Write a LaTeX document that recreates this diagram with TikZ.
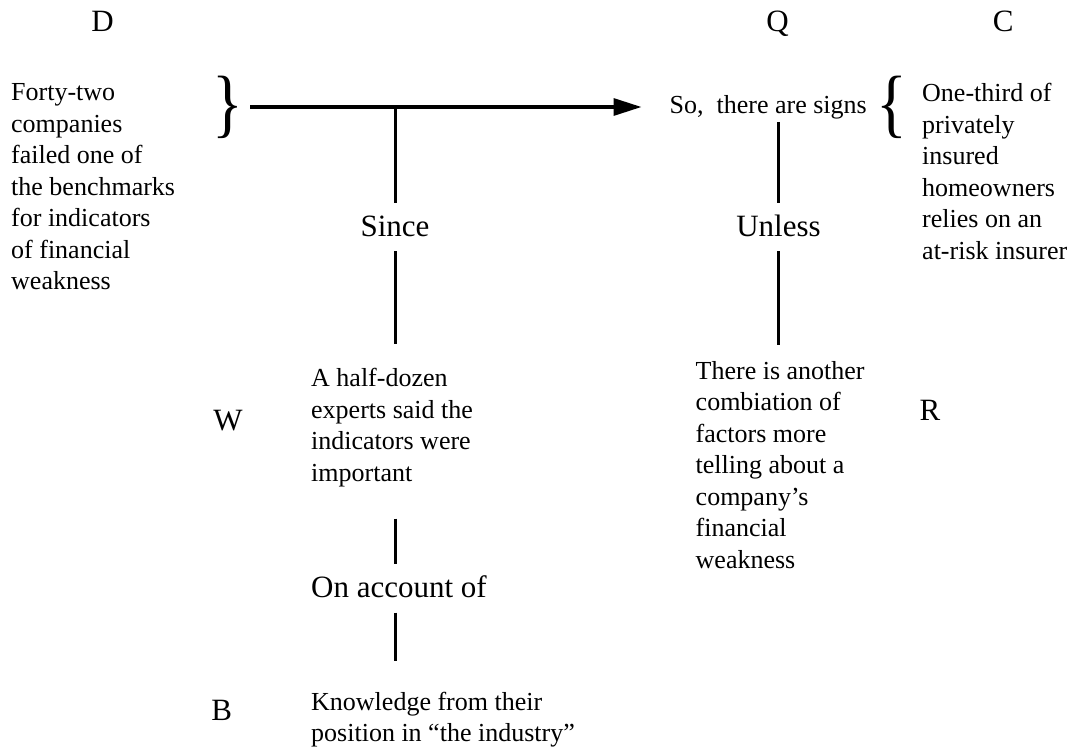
\documentclass[tikz,border=0pt]{standalone}
\usepackage{fontspec}
\setmainfont{Liberation Serif}
\usetikzlibrary{arrows.meta,calc}
% left-aligned block whose baseline is that of its first line
\newcommand\blocktext[1]{\begin{tabular}[t]{@{}l@{}}#1\end{tabular}}
\begin{document}
\begin{tikzpicture}[x=1pt,y=-1pt,
  body/.style={inner sep=0pt, anchor=base west, font=\fontsize{26}{31.5}\selectfont},
  conj/.style={inner sep=0pt, anchor=base, font=\fontsize{31}{36}\selectfont,
    text height=33pt, text depth=15pt},
  letter/.style={inner sep=0pt, anchor=base, font=\fontsize{31}{36}\selectfont},
  bracket/.style={inner sep=0pt, font=\fontsize{64}{70}\selectfont},
  conn/.style={line width=3pt},
  flow/.style={line width=3.3pt, -{Triangle[length=28pt,width=17pt]}}]

\useasboundingbox (0,0) rectangle (1076,749);

% Toulmin element letters
\node[letter] (d) at (102.5,31.7) {D};
\node[letter] (q) at (777.5,31.7) {Q};
\node[letter] (c) at (1003.3,31.7) {C};
\node[letter] (w) at (228,430) {W};
\node[letter] (r) at (930,420) {R};
\node[letter] (b) at (221.7,720) {B};

% statements
\node[body] (data) at (11,101) {\blocktext{Forty-two\\companies\\failed one of\\the benchmarks\\for indicators\\of financial\\weakness}};
\node[body] (claim) at (922,101.7) {\blocktext{One-third of\\privately\\insured\\homeowners\\relies on an\\at-risk insurer}};
\node[body] (so) at (669.5,113.3) {So,\ \ there are signs};
\node[body] (half) at (311,386.7) {\blocktext{A half-dozen\\experts said the\\indicators were\\important}};
\node[body] (there) at (695.5,379.3) {\blocktext{There is another\\combiation of\\factors more\\telling about a\\company’s\\financial\\weakness}};
\node[body] (know) at (311,710) {\blocktext{Knowledge from their\\position in “the industry”}};

% connecting words
\node[conj] (since) at (395,236) {Since};
\node[conj] (unless) at (778.5,236) {Unless};
\node[conj, anchor=base west] (account) at (311,597.5) {On account of};

% braces, stretched to span the first two lines
\node[bracket] (lb) at (227.5,107.5) {\scalebox{1}[1.18]{\}}};
\node[bracket] (rb) at (892,107.5) {\scalebox{1}[1.18]{\{}};

% main inference arrow
\coordinate (a) at (lb.east |- 0,107);
\draw[flow] ([xshift=7pt]a) -- ([xshift=-28pt]a -| so.west);
\coordinate (j) at (since.north |- a);

% warrant and backing chain
\draw[conn] (j) -- (since.north);
\draw[conn] (since.south) -- ($(since.south |- half.north)+(0,-20)$);
\draw[conn] ($(since.south |- half.south)+(0,27.7)$) -- (since.south |- account.north);
\draw[conn] (since.south |- account.south) -- ($(since.south |- know.north)+(0,-26.3)$);

% rebuttal chain
\draw[conn] ($(unless.north |- so.south)+(0,2.8)$) -- (unless.north);
\draw[conn] (unless.south) -- ($(unless.south |- there.north)+(0,-12.3)$);
\end{tikzpicture}
\end{document}
